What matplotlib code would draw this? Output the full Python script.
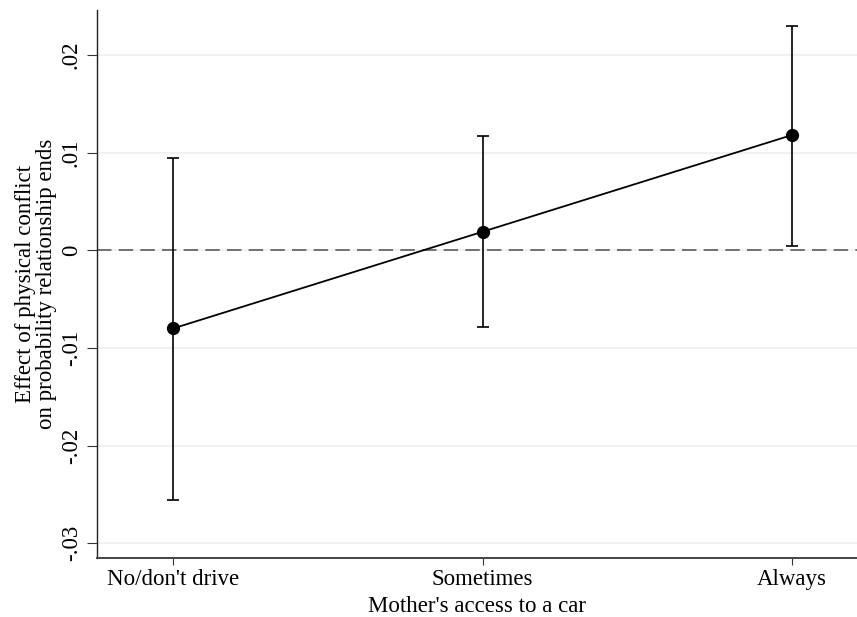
import matplotlib
matplotlib.use("Agg")
import matplotlib.pyplot as plt
import numpy as np

# estimates
categories = ["No/don't drive", "Sometimes", "Always"]
effect = [-0.0080, 0.0019, 0.0118]
ci_low = [-0.0256, -0.0079, 0.0004]
ci_high = [0.0094, 0.0117, 0.0230]
yticks = [-0.03, -0.02, -0.01, 0, 0.01, 0.02]
ytick_labels = ["-.03", "-.02", "-.01", "0", ".01", ".02"]

plt.rcParams["font.family"] = ["Liberation Serif", "DejaVu Serif"]

fig = plt.figure(figsize=(8.57, 6.17), dpi=100)
ax = fig.add_axes([0.1132, 0.0956, 0.8868, 0.8882])

x = np.arange(1, len(categories) + 1)
effect = np.array(effect)
err = np.vstack([effect - np.array(ci_low), np.array(ci_high) - effect])

for t in yticks:
    ax.axhline(t, color="#eaf1f3", lw=1.2, zorder=0)
ax.axhline(0, color="#666666", lw=1.3, dashes=(8, 4), zorder=1)

ax.errorbar(x, effect, yerr=err, fmt="none", ecolor="black", elinewidth=1.2,
            capsize=4.5, capthick=1.2, zorder=2)
ax.plot(x, effect, color="black", lw=1.3, marker="o", markersize=8.5, zorder=3)

ax.set_xlim(0.754, 3.21)
ax.set_ylim(-0.0315, 0.0246)
ax.set_xticks(x)
ax.set_xticklabels(categories, fontsize=16.5)
ax.set_yticks(yticks)
ax.set_yticklabels(ytick_labels, fontsize=16.5, rotation=90, va="center")
ax.tick_params(axis="x", length=5, width=0.8, color="#333333", pad=3)
ax.tick_params(axis="y", length=7, width=0.8, color="#333333", pad=4)

ax.set_xlabel("Mother's access to a car", fontsize=16.5, labelpad=4)
ax.set_ylabel("Effect of physical conflict\non probability relationship ends",
              fontsize=16.5, labelpad=3, linespacing=1.0)

for s in ["top", "right"]:
    ax.spines[s].set_visible(False)
ax.spines["left"].set_color("#222222")
ax.spines["bottom"].set_color("#444444")
ax.spines["left"].set_linewidth(1.0)
ax.spines["bottom"].set_linewidth(1.4)

fig.savefig("out.png", dpi=100, facecolor="white")
